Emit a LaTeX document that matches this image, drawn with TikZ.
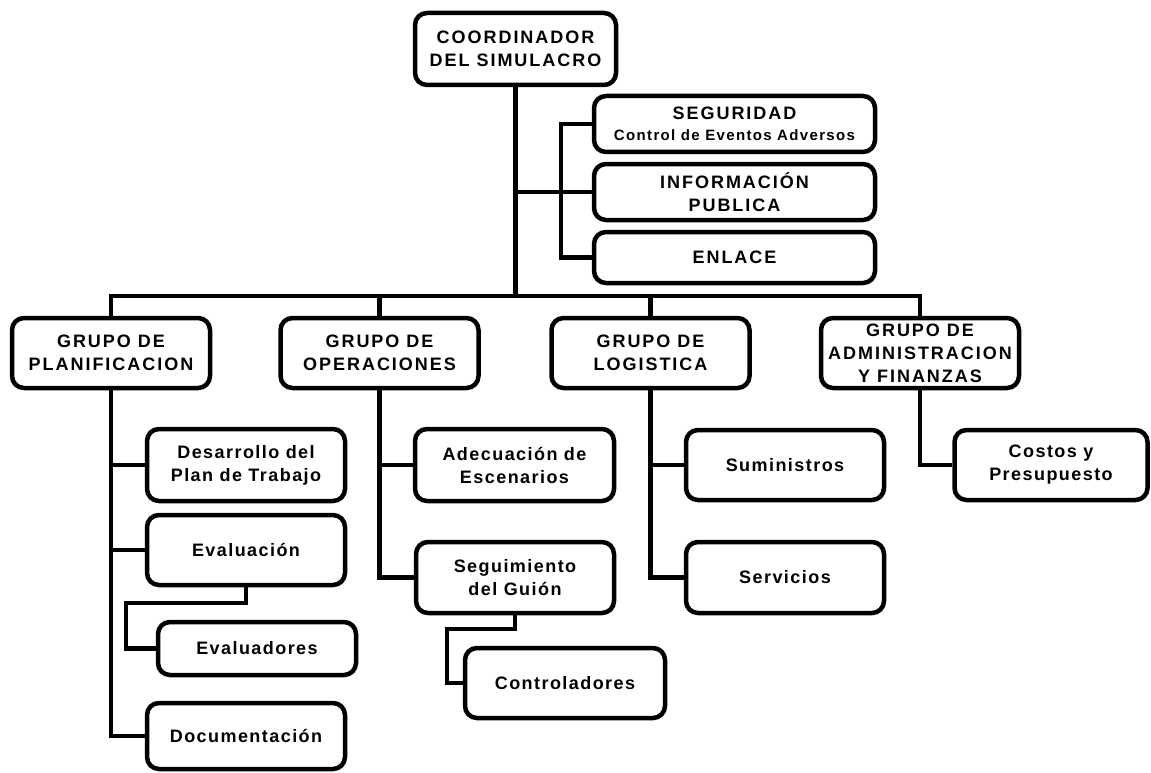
\documentclass[tikz,border=0pt]{standalone}
\usepackage{fontspec}
\setmainfont{Liberation Sans}[LetterSpace=8]
\begin{document}
\begin{tikzpicture}[x=1pt,y=-1pt,
  box/.style={draw, line width=4.5pt, rounded corners=12pt, fill=white, align=center, inner sep=0pt,
    font=\bfseries\fontsize{18}{23}\selectfont},
  capsbox/.style={box, font=\bfseries\fontsize{18}{23}\selectfont\addfontfeature{LetterSpace=11}},
  conn/.style={line width=4.5pt}]
\useasboundingbox (0,0) rectangle (1151,773);
% coordinates
\coordinate (bar) at (515.5,296);
\coordinate (brk) at (561,124);
\coordinate (e1) at (126,603);
\coordinate (c1) at (447,629);
% connectors
\draw[conn] (515.5,49) -- (bar);
\draw[conn] (111,353) |- (bar);
\draw[conn] (920,353) |- (bar);
\draw[conn] (379.5,353) -- (379.5,296);
\draw[conn] (650.5,353) -- (650.5,296);
% top boxes
\node[capsbox, minimum width=201pt, minimum height=72pt] (coord) at (515.5,49) {COORDINADOR\\DEL SIMULACRO};
\node[capsbox, minimum width=281pt, minimum height=56pt] (seg) at (734.5,124) {SEGURIDAD\\[-2pt]{\fontsize{15}{20}\selectfont\addfontfeature{LetterSpace=9}Control de Eventos Adversos}};
\node[capsbox, minimum width=281pt, minimum height=56pt] (info) at (734.5,192) {INFORMACIÓN\\PUBLICA};
\node[capsbox, minimum width=281pt, minimum height=51pt] (enl) at (734.5,257.5) {ENLACE};
% groups
\node[capsbox, minimum width=198pt, minimum height=70pt] (plan) at (111,353) {GRUPO DE\\PLANIFICACION};
\node[capsbox, minimum width=198pt, minimum height=70pt] (oper) at (379.5,353) {GRUPO DE\\OPERACIONES};
\node[capsbox, minimum width=198pt, minimum height=70pt] (logi) at (650.5,353) {GRUPO DE\\LOGISTICA};
\node[capsbox, minimum width=198pt, minimum height=70pt] (admin) at (920,353) {GRUPO DE\\ADMINISTRACION\\Y FINANZAS};
% sub boxes
\node[box, minimum width=198pt, minimum height=72pt] (desa) at (246,465) {Desarrollo del\\Plan de Trabajo};
\node[box, minimum width=198pt, minimum height=70pt] (eval) at (246,550) {Evaluación};
\node[box, minimum width=198pt, minimum height=53pt] (evalr) at (257,648.5) {Evaluadores};
\node[box, minimum width=198pt, minimum height=66pt] (docu) at (246,736) {Documentación};
\node[box, minimum width=199pt, minimum height=72pt] (adec) at (514.5,465) {Adecuación de\\Escenarios};
\node[box, minimum width=198pt, minimum height=71pt] (segu) at (515,577.5) {Seguimiento\\del Guión};
\node[box, minimum width=200pt, minimum height=70pt] (ctrl) at (565,683) {Controladores};
\node[box, minimum width=198pt, minimum height=70pt] (sumi) at (785,465) {Suministros};
\node[box, minimum width=198pt, minimum height=71pt] (serv) at (785,577.5) {Servicios};
\node[box, minimum width=193pt, minimum height=70pt] (cost) at (1051,465) {Costos y\\Presupuesto};
% connectors between nodes
\draw[conn] (info.west) -- (info.west -| coord.south);
\draw[conn] (seg.west) -| (brk |- enl.west) -- (enl.west);
\draw[conn] (plan.south) |- (docu.west);
\draw[conn] (desa.west) -- (desa.west -| plan.south);
\draw[conn] (eval.west) -- (eval.west -| plan.south);
\draw[conn] (eval.south) |- (e1) |- (evalr.west);
\draw[conn] (oper.south) |- (segu.west);
\draw[conn] (adec.west) -- (adec.west -| oper.south);
\draw[conn] (segu.south) |- (c1) |- (ctrl.west);
\draw[conn] (logi.south) |- (serv.west);
\draw[conn] (sumi.west) -- (sumi.west -| logi.south);
\draw[conn] (admin.south) |- (cost.west);
\end{tikzpicture}
\end{document}
